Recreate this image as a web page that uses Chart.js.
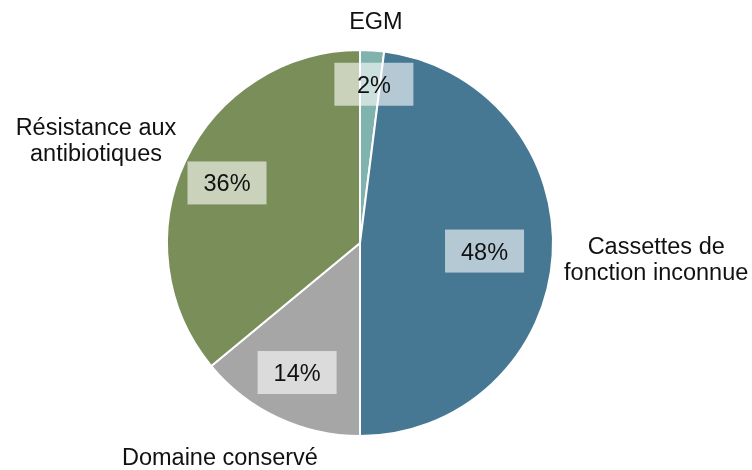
<!DOCTYPE html>
<html>
<head>
<meta charset="utf-8">
<script src="https://cdn.jsdelivr.net/npm/chart.js@4/dist/chart.umd.min.js"></script>
<style>
  html, body { margin: 0; padding: 0; background: #ffffff; }
  #wrap { width: 752px; height: 470px; }
</style>
</head>
<body>
<div id="wrap"><canvas id="c" width="752" height="470"></canvas></div>
<script>
// Répartition des cassettes (en %)
const categories = ['EGM', 'Cassettes de\nfonction inconnue', 'Domaine conservé', 'Résistance aux\nantibiotiques'];
const shares = [2, 48, 14, 36];
const sliceColors = ['#80b3ad', '#467893', '#a6a6a6', '#7a8e59'];

// Placement of the category names and percentage boxes around each slice
// (r: fraction of the pie radius, a: angle in degrees clockwise from the top)
const nameSpots = [
  { r: 1.159, a: 4.1 },
  { r: 1.545, a: 93.1 },
  { r: 1.336, a: 213.1 },
  { r: 1.476, a: 291.3 }
];
const valueSpots = [
  { r: 0.83, a: 5 },
  { r: 0.65, a: 93.7 },
  { r: 0.75, a: 205.9 },
  { r: 0.76, a: 294.3 }
];

const FONT = '23.5px "Liberation Sans", Arial, sans-serif';

const labelPlugin = {
  id: 'sliceLabels',
  afterDatasetsDraw(chart) {
    const ctx = chart.ctx;
    const meta = chart.getDatasetMeta(0);
    const ds = chart.data.datasets[0];
    const R = 192;
    ctx.save();
    ctx.font = FONT;
    ctx.textBaseline = 'middle';
    ctx.textAlign = 'center';
    meta.data.forEach((arc, i) => {
      const { x, y } = arc.getProps(['x', 'y'], true);
      // value box
      const v = valueSpots[i];
      const va = v.a * Math.PI / 180;
      const bx = x + Math.sin(va) * R * v.r;
      const by = y - Math.cos(va) * R * v.r;
      const bw = 79, bh = 43;
      ctx.fillStyle = 'rgba(255,255,255,0.6)';
      ctx.fillRect(bx - bw / 2, by - bh / 2, bw, bh);
      ctx.fillStyle = '#111111';
      ctx.fillText(ds.data[i] + '%', bx, by + 2);
      // category name
      const n = nameSpots[i];
      const na = n.a * Math.PI / 180;
      const nx = x + Math.sin(na) * R * n.r;
      const ny = y - Math.cos(na) * R * n.r;
      const lines = chart.data.labels[i].split('\n');
      const lh = 26;
      lines.forEach((ln, k) => {
        ctx.fillText(ln, nx, ny + 1 + (k - (lines.length - 1) / 2) * lh);
      });
    });
    ctx.restore();
  }
};

new Chart(document.getElementById('c'), {
  type: 'pie',
  data: {
    labels: categories,
    datasets: [{
      data: shares,
      backgroundColor: sliceColors,
      borderColor: '#ffffff',
      borderWidth: 2
    }]
  },
  options: {
    responsive: false,
    animation: false,
    layout: { padding: { left: 166, right: 198, top: 49, bottom: 33 } },
    plugins: {
      legend: { display: false },
      tooltip: { enabled: false }
    }
  },
  plugins: [labelPlugin]
});
</script>
</body>
</html>
